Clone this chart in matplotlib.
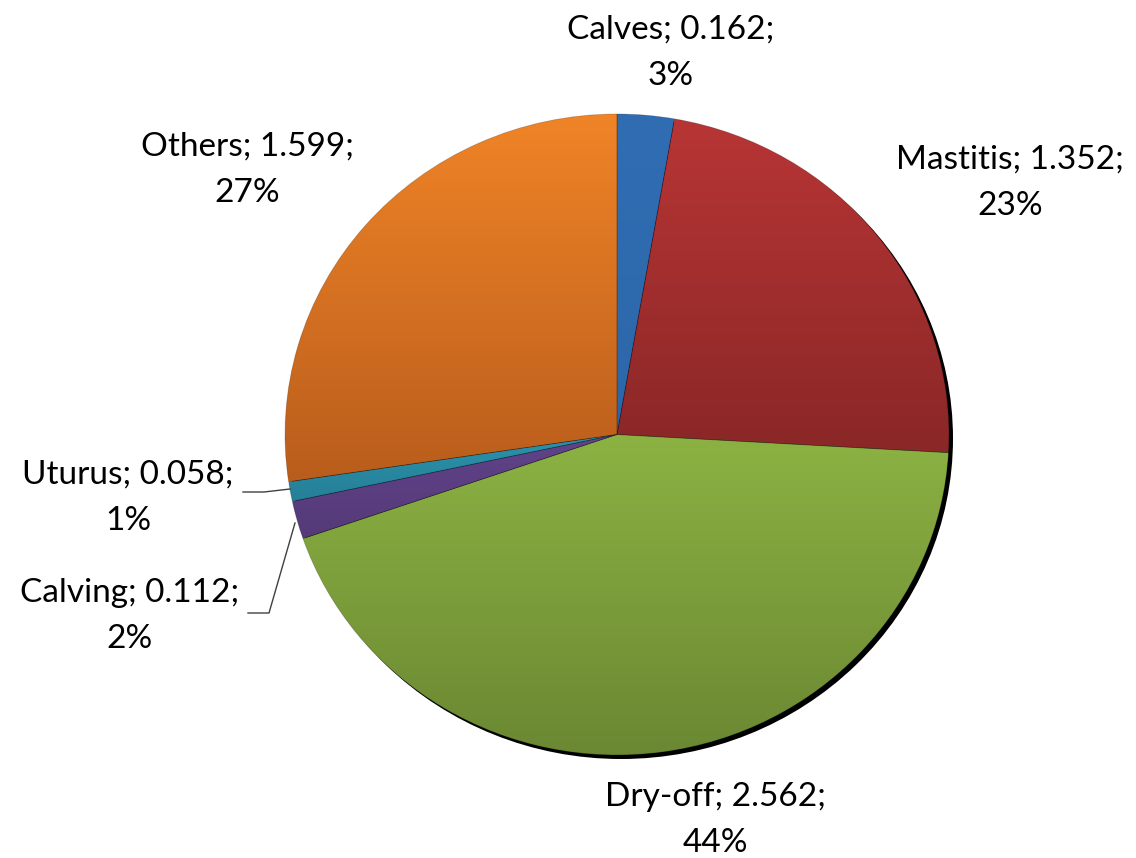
import numpy as np
import matplotlib
matplotlib.use("Agg")
import matplotlib.pyplot as plt
from matplotlib.colors import LinearSegmentedColormap
from matplotlib.patches import Ellipse

categories = ["Calves", "Mastitis", "Dry-off", "Calving", "Uturus", "Others"]
values = [0.162, 1.352, 2.562, 0.112, 0.058, 1.599]
top_colors = ["#306db3", "#b83535", "#8cb243", "#60438a", "#2b93ad", "#f08427"]
bottom_colors = ["#2c67a9", "#8a2727", "#6a8732", "#553a78", "#267f96", "#b95d1c"]

plt.rcParams["font.family"] = ["Lato", "DejaVu Sans"]

W, H, DPI = 1136, 858, 100
fig = plt.figure(figsize=(W / DPI, H / DPI), dpi=DPI)

# pie box in pixels (slightly flattened ellipse)
cx, cy, rx, ry = 617, 434.5, 332, 320.5
ax = fig.add_axes([(cx - rx) / W, (H - cy - ry) / H, 2 * rx / W, 2 * ry / H])
ax.set_xlim(-1, 1)
ax.set_ylim(-1, 1)
ax.set_aspect("auto")
ax.axis("off")


def px(x, y):
    """pixel position (from top-left) -> data coords of the pie axes"""
    return (x - cx) / rx, (cy - y) / ry


# drop shadow
ax.add_patch(Ellipse((4 / rx, -4 / ry), 2, 2, facecolor="black",
                     edgecolor="none", zorder=0, clip_on=False))

wedges, _ = ax.pie(values, startangle=90, counterclock=False, radius=1,
                   colors=top_colors, wedgeprops=dict(linewidth=0))

for w, c1, c2 in zip(wedges, top_colors, bottom_colors):
    verts = w.get_path().vertices
    x0, x1 = verts[:, 0].min(), verts[:, 0].max()
    y0, y1 = verts[:, 1].min(), verts[:, 1].max()
    cmap = LinearSegmentedColormap.from_list("g", [c2, c1])
    grad = np.linspace(0, 1, 256).reshape(-1, 1)
    im = ax.imshow(grad, cmap=cmap, origin="lower", aspect="auto",
                   extent=(x0, x1, y0, y1), zorder=2, interpolation="bilinear")
    im.set_clip_path(w)
    w.set_facecolor("none")
    w.set_edgecolor((0, 0, 0, 0.2))
    w.set_linewidth(0.6)
    w.set_zorder(3)

ax.set_xlim(-1, 1)
ax.set_ylim(-1, 1)

total = sum(values)
label_pos = {
    "Calves": (671, 30),
    "Mastitis": (1010, 160),
    "Dry-off": (715, 797),
    "Calving": (130, 593),
    "Uturus": (128, 475),
    "Others": (247, 147),
}
for name, v in zip(categories, values):
    x, y = label_pos[name]
    pct = round(100 * v / total)
    tx, ty = px(x, y)
    ax.text(tx, ty, f"{name}; {v:.3f};", ha="center", va="center",
            fontsize=24, color="black", clip_on=False)
    tx2, ty2 = px(x, y + 46)
    ax.text(tx2, ty2, f"{pct}%", ha="center", va="center",
            fontsize=24, color="black", clip_on=False)

# leader lines for the two thin slices
for pts in ([(243, 492), (264, 492), (290, 489)],
            [(248, 613), (269, 613), (295, 523)]):
    xs, ys = zip(*[px(a, b) for a, b in pts])
    ax.plot(xs, ys, color="#404040", lw=1.0, clip_on=False, zorder=4)

fig.savefig("out.png", dpi=DPI, facecolor="white")
